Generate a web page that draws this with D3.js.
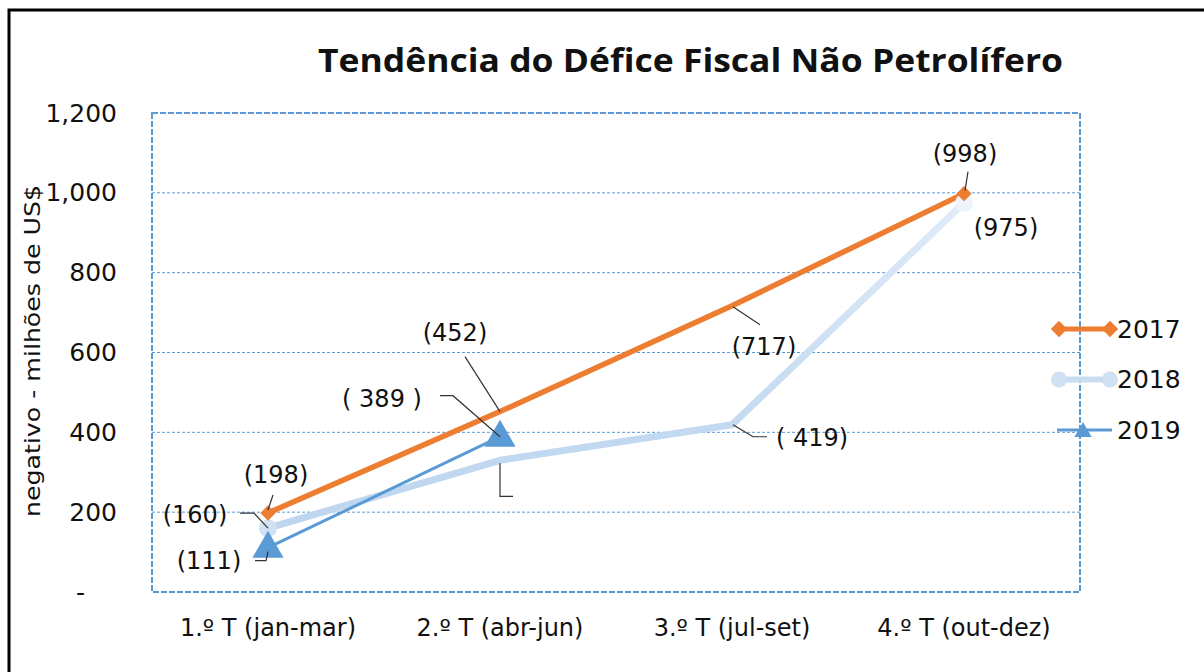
<!DOCTYPE html>
<html>
<head>
<meta charset="utf-8">
<script src="https://cdn.jsdelivr.net/npm/d3@7"></script>
<style>
  body { margin: 0; background: #fff; }
  text { font-family: "DejaVu Sans", sans-serif; fill: #111; }
</style>
</head>
<body>
<svg width="1204" height="672"></svg>
<script>
// dados
var trimestres = ["1.º T (jan-mar)", "2.º T (abr-jun)", "3.º T (jul-set)", "4.º T (out-dez)"];
var anos = ["2017", "2018", "2019"];
var valores2017 = [198, 452, 717, 998];
var valores2018 = [160, 330, 419, 975];
var valores2019 = [111, 389];
var rotulos2017 = ["(198)", "(452)", "(717)", "(998)"];
var rotulos2018 = ["(160)", "", "( 419)", "(975)"];
var rotulos2019 = ["(111)", "( 389 )"];
var yTicks = [0, 200, 400, 600, 800, 1000, 1200];

var svg = d3.select("svg"),
  width = +svg.attr("width"),
  height = +svg.attr("height");

var area = { left: 152, right: 1080, top: 113, bottom: 592 };

var x = d3.scaleBand().domain(trimestres).range([area.left, area.right]);
var y = d3.scaleLinear().domain([0, 1200]).range([area.bottom, area.top]);
var cx = function(i) { return x(trimestres[i]) + x.bandwidth() / 2; };

// moldura da imagem
svg.append("path")
  .attr("d", "M9,672 V10 H1204")
  .attr("fill", "none").attr("stroke", "#000").attr("stroke-width", 3);

// titulo
svg.append("text")
  .attr("x", 318).attr("y", 72)
  .attr("textLength", 745).attr("lengthAdjust", "spacingAndGlyphs")
  .style("font-family", "'Open Sans', sans-serif")
  .style("font-weight", "bold").style("font-size", "33px")
  .text("Tendência do Défice Fiscal Não Petrolífero");

// grelha
svg.append("g").selectAll("line")
  .data(yTicks.filter(function(d) { return d > 0 && d < 1200; }))
  .join("line")
  .attr("x1", area.left).attr("x2", area.right)
  .attr("y1", function(d) { return y(d); }).attr("y2", function(d) { return y(d); })
  .attr("stroke", "#5b9bd5").attr("stroke-width", 1).attr("stroke-dasharray", "3,2");

// borda da area do grafico
svg.append("rect")
  .attr("x", area.left).attr("y", area.top)
  .attr("width", area.right - area.left).attr("height", area.bottom - area.top)
  .attr("fill", "none").attr("stroke", "#5b9bd5").attr("stroke-width", 2)
  .attr("stroke-dasharray", "6,2");

// eixo y
var eixoY = d3.axisLeft(y).tickValues(yTicks).tickSize(0).tickPadding(0)
  .tickFormat(function(d) { return d === 0 ? "-" : d3.format(",")(d); });
svg.append("g").attr("transform", "translate(117,0)").call(eixoY)
  .call(function(g) { g.select(".domain").remove(); })
  .selectAll("text").style("font-size", "25px").style("font-family", "'DejaVu Sans', sans-serif")
  .attr("fill", "#111")
  .attr("dx", function(d) { return d === 0 ? -32 : 0; });

// eixo x
var eixoX = d3.axisBottom(x).tickSize(0).tickPadding(0);
svg.append("g").attr("transform", "translate(0," + 619 + ")").call(eixoX)
  .call(function(g) { g.select(".domain").remove(); })
  .selectAll("text").style("font-size", "24px").style("font-family", "'DejaVu Sans', sans-serif")
  .attr("fill", "#111");

// titulo do eixo y
svg.append("text")
  .attr("transform", "translate(32,351) rotate(-90)")
  .attr("text-anchor", "middle").attr("dominant-baseline", "central")
  .attr("textLength", 332).attr("lengthAdjust", "spacingAndGlyphs")
  .style("font-size", "22px")
  .text("negativo - milhões de US$");

// gradiente 2018
var defs = svg.append("defs");
var grad = defs.append("linearGradient").attr("id", "g2018")
  .attr("gradientUnits", "userSpaceOnUse")
  .attr("x1", area.left).attr("x2", area.right).attr("y1", 0).attr("y2", 0);
grad.append("stop").attr("offset", "0").attr("stop-color", "#bcd5ee");
grad.append("stop").attr("offset", "0.62").attr("stop-color", "#c3daf1");
grad.append("stop").attr("offset", "1").attr("stop-color", "#eef4fb");

var linha = d3.line().x(function(d, i) { return cx(i); }).y(function(d) { return y(d); });

svg.append("path").datum(valores2018).attr("d", linha)
  .attr("fill", "none").attr("stroke", "url(#g2018)").attr("stroke-width", 7)
  .attr("stroke-linejoin", "round");
svg.append("path").datum(valores2017).attr("d", linha)
  .attr("fill", "none").attr("stroke", "#ed7d31").attr("stroke-width", 5.5);
svg.append("path").datum(valores2019).attr("d", linha)
  .attr("fill", "none").attr("stroke", "#5b9bd5").attr("stroke-width", 3);

// marcadores
var diamante = d3.symbol().type(d3.symbolDiamond2).size(150);
var triangulo = d3.symbol().type(d3.symbolTriangle).size(420);

svg.append("g").selectAll("circle")
  .data(valores2018.map(function(v, i) { return { v: v, i: i }; }).filter(function(d) { return d.i === 0 || d.i === 3; }))
  .join("circle")
  .attr("cx", function(d) { return cx(d.i); }).attr("cy", function(d) { return y(d.v); })
  .attr("r", 9).attr("fill", function(d) { return d.i === 0 ? "#cfe1f3" : "#eef4fb"; });

svg.append("g").selectAll("path")
  .data(valores2017.map(function(v, i) { return { v: v, i: i }; }).filter(function(d) { return d.i === 0 || d.i === 3; }))
  .join("path")
  .attr("d", diamante)
  .attr("transform", function(d) { return "translate(" + cx(d.i) + "," + y(d.v) + ")"; })
  .attr("fill", "#ed7d31");

svg.append("g").selectAll("path")
  .data(valores2019)
  .join("path")
  .attr("d", triangulo)
  .attr("transform", function(d, i) { return "translate(" + cx(i) + "," + (y(d) + 1) + ")"; })
  .attr("fill", "#5b9bd5");

// rotulos: deslocamento do texto e linha de chamada relativos ao ponto
var rotulos = [
  { t: rotulos2017[0], s: valores2017, i: 0, dx: 8, dy: -38, lead: [[5, -18], [0, -3]] },
  { t: rotulos2017[1], s: valores2017, i: 1, dx: -45, dy: -79, lead: [[-35, -55], [0, 0]] },
  { t: rotulos2017[2], s: valores2017, i: 2, dx: 32, dy: 41, lead: [[1, 1], [28, 19]] },
  { t: rotulos2017[3], s: valores2017, i: 3, dx: 1, dy: -40, lead: [[4, -22], [1, -3]] },
  { t: rotulos2018[0], s: valores2018, i: 0, dx: -73, dy: -13, lead: [[-28, -15], [-14, -15], [0, 0]] },
  { t: rotulos2018[1], s: valores2018, i: 1, dx: 0, dy: 0, lead: [[0, 3], [0, 36], [13, 36]] },
  { t: rotulos2018[2], s: valores2018, i: 2, dx: 80, dy: 13, lead: [[1, 0], [21, 12], [35, 12]] },
  { t: rotulos2018[3], s: valores2018, i: 3, dx: 42, dy: 25, lead: [] },
  { t: rotulos2019[0], s: valores2019, i: 0, dx: -59, dy: 13, lead: [[-13, 13], [-2, 13], [0, 4]] },
  { t: rotulos2019[1], s: valores2019, i: 1, dx: -118, dy: -38, lead: [[-60, -41], [-47, -41], [0, 0]] }
];

var rg = svg.append("g");
rotulos.forEach(function(r) {
  var px = cx(r.i), py = y(r.s[r.i]);
  if (r.lead.length) {
    rg.append("path")
      .attr("d", d3.line()(r.lead.map(function(p) { return [px + p[0], py + p[1]]; })))
      .attr("fill", "none").attr("stroke", "#333").attr("stroke-width", 1.2);
  }
  rg.append("text")
    .attr("x", px + r.dx).attr("y", py + r.dy)
    .attr("text-anchor", "middle").attr("dominant-baseline", "central")
    .style("font-size", "24px")
    .text(r.t);
});

// legenda
var cores = { "2017": "#ed7d31", "2018": "#c9ddf2", "2019": "#5b9bd5" };
var legY = d3.scalePoint().domain(anos).range([329, 430]);
var leg = svg.append("g");
anos.forEach(function(a) {
  var ly = legY(a);
  var g = leg.append("g");
  if (a === "2019") {
    g.append("line").attr("x1", 1057).attr("x2", 1112).attr("y1", ly).attr("y2", ly)
      .attr("stroke", cores[a]).attr("stroke-width", 3);
    g.append("path").attr("d", d3.symbol().type(d3.symbolTriangle).size(130))
      .attr("transform", "translate(1083," + (ly + 2) + ")").attr("fill", cores[a]);
  } else {
    g.append("line").attr("x1", 1059).attr("x2", 1110).attr("y1", ly).attr("y2", ly)
      .attr("stroke", cores[a]).attr("stroke-width", a === "2017" ? 5 : 6);
    [1059, 1110].forEach(function(mx) {
      if (a === "2017") {
        g.append("path").attr("d", d3.symbol().type(d3.symbolDiamond2).size(170))
          .attr("transform", "translate(" + mx + "," + ly + ")").attr("fill", cores[a]);
      } else {
        g.append("circle").attr("cx", mx).attr("cy", ly).attr("r", 8).attr("fill", "#cfe1f3");
      }
    });
  }
  g.append("text").attr("x", 1117).attr("y", ly).attr("dominant-baseline", "central")
    .style("font-size", "25px").text(a);
});
</script>
</body>
</html>
